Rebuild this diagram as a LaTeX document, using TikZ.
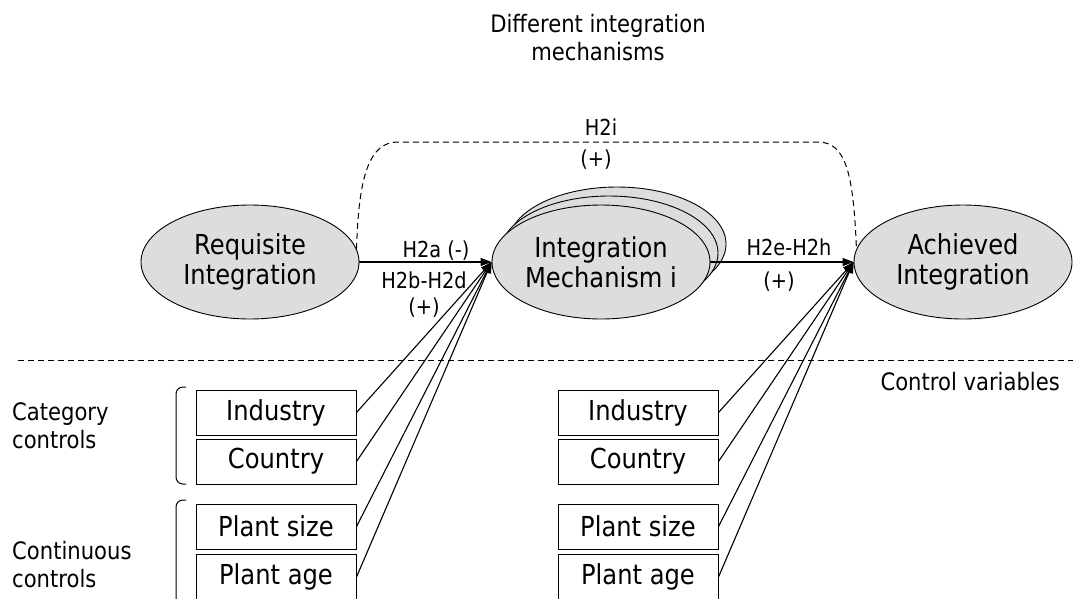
\documentclass[tikz,border=0pt]{standalone}
\usepackage{fontspec}
\setmainfont{DejaVu Sans}[FakeStretch=0.88]
\usetikzlibrary{shapes.geometric,arrows.meta,calc}
\definecolor{ovalfill}{HTML}{DDDDDD}
\begin{document}
\begin{tikzpicture}[x=1pt,y=-1pt,
  oval/.style={ellipse,draw,line width=0.9pt,fill=ovalfill,minimum width=218pt,
    minimum height=114pt,inner sep=0pt,align=center,font=\fontsize{27.5}{30}\selectfont},
  ctrlbox/.style={rectangle,draw,line width=1pt,minimum width=160pt,minimum height=45pt,
    inner sep=0pt,font=\fontsize{27.5}{30}\selectfont},
  lbl/.style={font=\fontsize{22}{26}\selectfont,align=center,inner sep=0pt},
  note/.style={font=\fontsize{24}{28}\selectfont,inner sep=0pt},
  link/.style={line width=1.1pt,-{Triangle[length=11pt,width=8pt]}},
  guide/.style={line width=1pt,dash pattern=on 6pt off 4pt},
  bracket/.style={line width=1pt,rounded corners=7pt},
]
\clip (0,0) rectangle (1073,598);

% heading
\node[note,align=center] (title) at (598,38) {Different integration\\mechanisms};

% constructs
\node[oval] (req) at (250,262) {Requisite\\Integration};
\node[oval] (mech3) at (617,244) {};
\node[oval] (mech2) at (609,253) {};
\node[oval] (mech) at (601,262) {Integration\\Mechanism i};
\node[oval] (ach) at (963,262) {Achieved\\Integration};

% hypothesised paths
\draw[link] (req.east) -- (mech.west);
\draw[link] (mech.east) -- (ach.west);
\coordinate (hl) at (398,142);
\coordinate (hr) at (818,142);
\draw[guide] (req.7) .. controls +(2,-75) and +(-28,0) .. (hl) -- (hr)
  .. controls +(28,0) and +(-3,-75) .. (ach.173);

\node[lbl] (h2i) at (601,127) {H2i};
\node[lbl] (h2ip) at (596,160) {(+)};
\node[lbl] (h2a) at (436,251) {H2a (-)};
\node[lbl] (h2b) at (424,295) {H2b-H2d\\(+)};
\node[lbl] (h2e) at (789,247) {H2e-H2h};
\node[lbl] (h2ep) at (779,282) {(+)};

% separator between model and controls
\coordinate (sepl) at (18,360);
\coordinate (sepr) at (1075,360);
\draw[guide] (sepl) -- (sepr);
\node[note,anchor=east] (ctrl) at (1060,382) {Control variables};

% control groups
\node[note,align=left,anchor=west] (cat) at (12,426) {Category\\controls};
\node[note,align=left,anchor=west] (cont) at (12,565) {Continuous\\controls};
\draw[bracket] (186,387) -- (176,387) -- (176,484) -- (186,484);
\draw[bracket] (186,500) -- (176,500) -- (176,620);

\node[ctrlbox] (lind) at (276,412.5) {Industry};
\node[ctrlbox] (lcou) at (276,461.5) {Country};
\node[ctrlbox] (lsiz) at (276,526.5) {Plant size};
\node[ctrlbox,minimum height=46pt] (lage) at (276,577) {Plant age};

\node[ctrlbox] (rind) at (638,412.5) {Industry};
\node[ctrlbox] (rcou) at (638,461.5) {Country};
\node[ctrlbox] (rsiz) at (638,526.5) {Plant size};
\node[ctrlbox,minimum height=46pt] (rage) at (638,577) {Plant age};

\foreach \b in {lind,lcou,lsiz,lage} \draw[link] (\b.east) -- (mech.west);
\foreach \b in {rind,rcou,rsiz,rage} \draw[link] (\b.east) -- (ach.west);
\end{tikzpicture}
\end{document}
